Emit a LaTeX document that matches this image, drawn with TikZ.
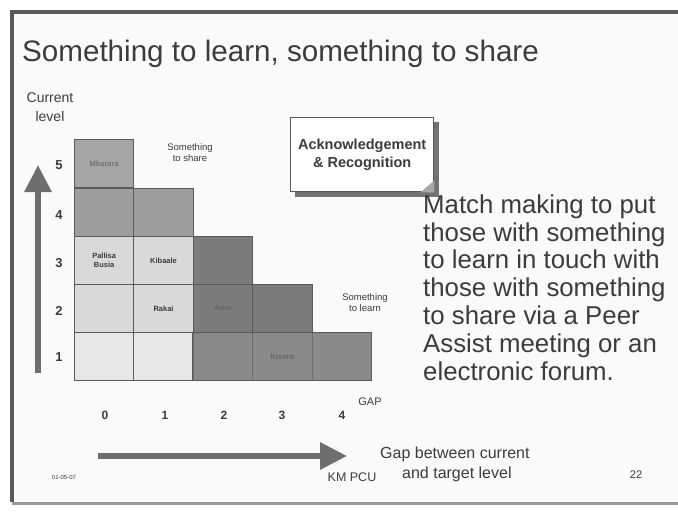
\documentclass[tikz,border=0pt]{standalone}
\usepackage{fontspec}
\setmainfont{Liberation Sans}
\usetikzlibrary{arrows.meta}
\definecolor{framec}{HTML}{5A5A5A}
\definecolor{inkc}{HTML}{3C3C3C}
\definecolor{cmid}{HTML}{A5A5A5}
\definecolor{clight}{HTML}{D9D9D9}
\definecolor{clighter}{HTML}{E7E7E7}
\definecolor{cdark}{HTML}{7B7B7B}
\definecolor{cdarkb}{HTML}{8A8A8A}
\definecolor{arrowc}{HTML}{6E6E6E}
\tikzset{
  cell/.style={draw=framec, line width=0.9pt, minimum width=59.4pt, minimum height=48pt, inner sep=0pt, anchor=north west, font=\bfseries\fontsize{7.5}{8.5}\selectfont, text=inkc, align=center},
  axisnum/.style={font=\bfseries\fontsize{13}{14}\selectfont, text=inkc},
  gapnum/.style={font=\bfseries\fontsize{12}{13}\selectfont, text=inkc},
  small/.style={font=\fontsize{9.5}{11}\selectfont, text=inkc, align=center},
  bigarrow/.style={draw=arrowc, line width=6pt, -{Triangle[width=26pt, length=27pt]}}
}
\begin{document}
\begin{tikzpicture}[x=1pt,y=-1pt]
\useasboundingbox (0,0) rectangle (678,514);
\fill[white] (0,0) rectangle (678,514);
\fill[black!2] (12,12) rectangle (678,502);
\draw[framec, line width=4pt] (12,502) -- (12,12) -- (682,12);
\draw[black!40, line width=3pt] (12,503) -- (682,503);

% title
\node[anchor=west, inner sep=0pt, font=\fontsize{29.6}{33}\selectfont, text=inkc] (title) at (22,54) {Something to learn, something to share};

% y axis label
\node[small, font=\fontsize{14}{19}\selectfont] (curlev) at (50,107) {Current\\level};

% cells
\node[cell, fill=cmid] (c50) at (74,139) {\textcolor{black!55}{Mbarara}};
\node[cell, fill=cmid!95!black] (c40) at (74,188) {};
\node[cell, fill=cmid!95!black] (c41) at (133.4,188) {};
\node[cell, fill=clight] (c30) at (74,236) {Pallisa\\Busia};
\node[cell, fill=clight] (c31) at (133.4,236) {Kibaale};
\node[cell, fill=cdark] (c32) at (192.8,236) {};
\node[cell, fill=clight] (c20) at (74,284) {};
\node[cell, fill=clight] (c21) at (133.4,284) {Rakai};
\node[cell, fill=cdark] (c22) at (192.8,284) {\textcolor{black!60}{Arua}};
\node[cell, fill=cdark] (c23) at (252.2,284) {};
\node[cell, fill=clighter] (c10) at (74,332) {};
\node[cell, fill=clighter] (c11) at (133.4,332) {};
\node[cell, fill=cdarkb, draw=cdarkb!80!black] (c12) at (192.8,332) {};
\node[cell, fill=cdarkb, draw=cdarkb!80!black] (c13) at (252.2,332) {\textcolor{black!60}{Kisoro}};
\node[cell, fill=cdarkb, draw=cdarkb!80!black] (c14) at (311.6,332) {};
\draw[framec, line width=0.9pt] (c12.north west) rectangle (c14.south east);

% level numbers
\node[axisnum] (n5) at (59,165) {5};
\node[axisnum] (n4) at (59,215) {4};
\node[axisnum] (n3) at (59,263) {3};
\node[axisnum] (n2) at (59,311) {2};
\node[axisnum] (n1) at (59,357) {1};

% gap numbers
\node[gapnum] (g0) at (105,415) {0};
\node[gapnum] (g1) at (165,415) {1};
\node[gapnum] (g2) at (224,415) {2};
\node[gapnum] (g3) at (282,415) {3};
\node[gapnum] (g4) at (342,415) {4};
\node[small, font=\fontsize{11}{12}\selectfont] (gap) at (370,402) {GAP};

% small labels
\node[small] (share) at (190,153) {Something\\to share};
\node[small] (learn) at (365,303) {Something\\to learn};

% arrows
\coordinate (ya) at (38,373);
\coordinate (yb) at (38,165);
\draw[bigarrow] (ya) -- (yb);
\coordinate (xa) at (98,456);
\coordinate (xb) at (347,456);
\draw[bigarrow] (xa) -- (xb);

\node[small, font=\fontsize{16}{20}\selectfont, align=left, anchor=north west, inner sep=0pt] (gaptxt) at (380,447) {Gap between current\\\hspace*{22pt}and target level};
\node[small, font=\fontsize{12.5}{14}\selectfont] (kmpcu) at (352,477) {KM PCU};
\node[small, font=\fontsize{6}{7}\selectfont] (date) at (64,477) {01-05-07};
\node[small, font=\fontsize{11}{12}\selectfont] (page) at (636,475) {22};

% acknowledgement box
\fill[black!55] (295,122) rectangle (439,197);
\node[draw=framec, line width=1.4pt, fill=white, minimum width=143pt, minimum height=74pt, anchor=north west, inner sep=1pt, font=\bfseries\fontsize{14.5}{18}\selectfont, text=inkc, align=center] (ack) at (290,117) {Acknowledgement\\\& Recognition};
\fill[black!35] (ack.south east) -- ++(-14,0) -- ++(14,-12) -- cycle;

% right text
\node[anchor=north west, inner sep=0pt, align=left, font=\fontsize{25.8}{27.8}\selectfont, text=inkc] (match) at (423,194.5) {Match making to put\\those with something\\to learn in touch with\\those with something\\to share via a Peer\\Assist meeting or an\\electronic forum.};
\end{tikzpicture}
\end{document}
